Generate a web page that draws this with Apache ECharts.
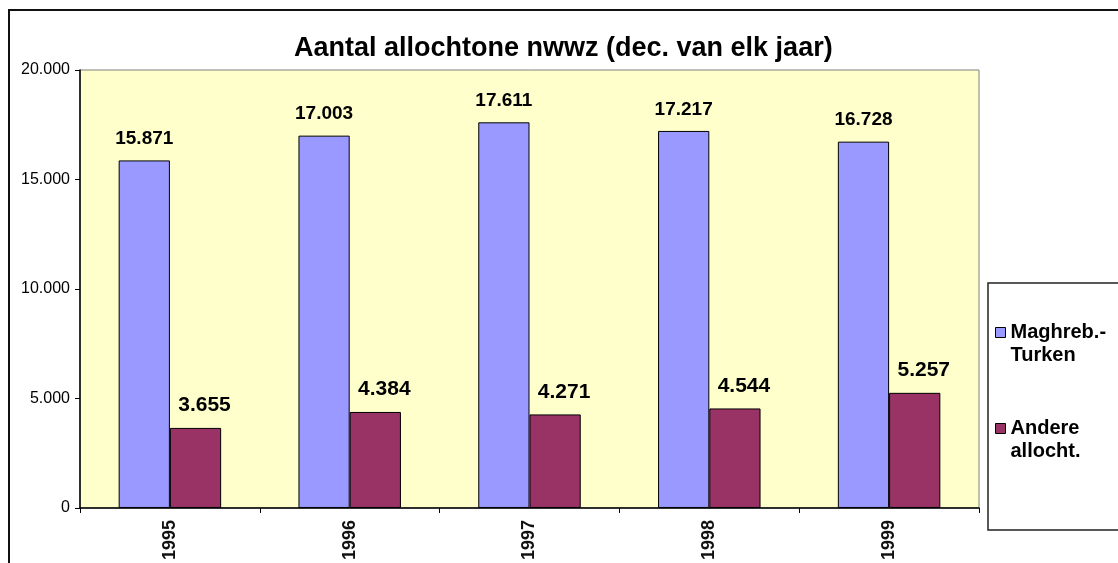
<!DOCTYPE html>
<html>
<head>
<meta charset="utf-8">
<script src="https://cdn.jsdelivr.net/npm/echarts@6/dist/echarts.min.js"></script>
<style>
  html, body { margin: 0; padding: 0; background: #fff; }
  #chart { width: 1118px; height: 563px; }
</style>
</head>
<body>
<div id="chart"></div>
<script>
// gegevens
var years = ['1995', '1996', '1997', '1998', '1999'];
var seriesNames = ['Maghreb.-\nTurken', 'Andere\nallocht.'];
var maghrebTurken = [15871, 17003, 17611, 17217, 16728];
var andereAllocht = [3655, 4384, 4271, 4544, 5257];
var yTicks = [0, 5000, 10000, 15000, 20000];

var FONT = 'Liberation Sans, Arial, sans-serif';

function nl(v) {
  // 15871 -> 15.871
  return String(v).replace(/\B(?=(\d{3})+(?!\d))/g, '.');
}

var chart = echarts.init(document.getElementById('chart'));
chart.setOption({
  animation: false,
  backgroundColor: '#fff',
  title: {
    text: 'Aantal allochtone nwwz (dec. van elk jaar)',
    left: 294,
    top: 35,
    padding: 0,
    textStyle: { fontFamily: FONT, fontWeight: 'bold', fontSize: 27, color: '#000' }
  },
  graphic: [
    { type: 'rect', z: -1, shape: { x: 9, y: 10, width: 1200, height: 700 },
      style: { fill: null, stroke: '#111', lineWidth: 2 } },
    { type: 'rect', shape: { x: 988, y: 283, width: 200, height: 247 },
      style: { fill: '#fff', stroke: '#222', lineWidth: 1.5 } }
  ],
  legend: {
    orient: 'vertical',
    left: 995,
    top: 298,
    padding: 0,
    itemWidth: 10,
    itemHeight: 10,
    itemGap: 27,
    icon: 'rect',
    itemStyle: { borderColor: '#000', borderWidth: 1 },
    // leading blank line keeps the first line level with the square
    formatter: function (name) { return ' \n' + name; },
    textStyle: { fontFamily: FONT, fontWeight: 'bold', fontSize: 20, color: '#000', lineHeight: 23 },
    data: seriesNames
  },
  grid: {
    left: 80, right: 139, top: 70, bottom: 54,
    show: true, backgroundColor: '#FFFFCC', borderColor: '#808080', borderWidth: 1
  },
  xAxis: {
    type: 'category',
    data: years,
    axisLine: { lineStyle: { color: '#000', width: 1.5 } },
    axisTick: { show: true, length: 5, lineStyle: { color: '#000' } },
    axisLabel: { rotate: 90, margin: 12, color: '#111', fontFamily: FONT,
      fontWeight: 'bold', fontSize: 18 }
  },
  yAxis: {
    type: 'value',
    min: yTicks[0], max: yTicks[yTicks.length - 1], interval: 5000,
    splitLine: { show: false },
    axisLine: { show: true, lineStyle: { color: '#000', width: 1.5 } },
    axisTick: { show: true, length: 5, lineStyle: { color: '#000' } },
    axisLabel: { margin: 10, color: '#000', fontFamily: FONT, fontSize: 16,
      formatter: function (v) { return nl(v); } }
  },
  series: [
    {
      name: seriesNames[0], type: 'bar', data: maghrebTurken,
      barGap: '0%', barCategoryGap: '43%',
      itemStyle: { color: '#9999FF', borderColor: '#000', borderWidth: 1 },
      label: { show: true, position: 'top', distance: 12, color: '#000',
        fontFamily: FONT, fontWeight: 'bold', fontSize: 19,
        formatter: function (p) { return nl(p.value); } }
    },
    {
      name: seriesNames[1], type: 'bar', data: andereAllocht,
      itemStyle: { color: '#993366', borderColor: '#000', borderWidth: 1 },
      label: { show: true, position: 'top', distance: 12, offset: [9, 0], color: '#000',
        fontFamily: FONT, fontWeight: 'bold', fontSize: 21,
        formatter: function (p) { return nl(p.value); } }
    }
  ]
});
</script>
</body>
</html>
